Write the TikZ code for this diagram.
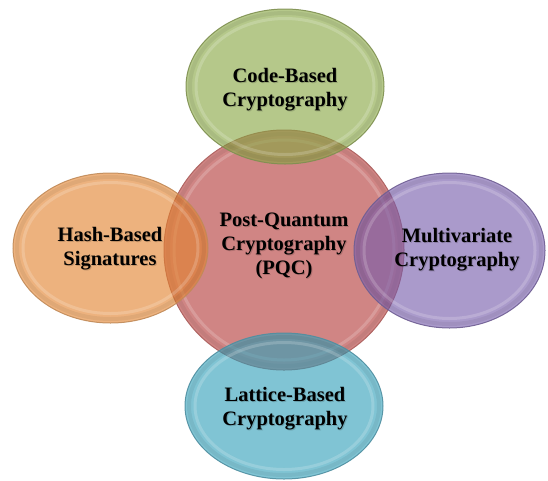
\documentclass[tikz,border=0pt]{standalone}
\usepackage{fontspec}
\setmainfont{Liberation Serif}
\usetikzlibrary{shapes.geometric}

\definecolor{pqcred}{HTML}{D08584}
\definecolor{pqcredline}{HTML}{B06664}
\definecolor{codegreen}{HTML}{87A642}
\definecolor{codegreenline}{HTML}{7E8F50}
\definecolor{hashorange}{HTML}{E2832F}
\definecolor{hashorangeline}{HTML}{C08A58}
\definecolor{multipurple}{HTML}{765CAB}
\definecolor{multipurpleline}{HTML}{6E5E92}
\definecolor{latticeblue}{HTML}{32A0B9}
\definecolor{latticeblueline}{HTML}{4F8EA0}

\tikzset{
  bubble/.style={ellipse, inner sep=0pt, fill=#1, fill opacity=0.62,
    draw=#1line, draw opacity=0.9, line width=1pt},
  core/.style={circle, inner sep=0pt, fill=pqcred, draw=pqcredline, line width=1pt},
  gloss/.style={white, opacity=0.18, line width=3pt},
  shade ring/.style={black, opacity=0.06, line width=4pt},
  caption/.style={align=center, inner sep=0pt, text=black,
    font=\fontsize{20.5}{24}\selectfont\bfseries},
  caption shadow/.style={caption, text=black, text opacity=0.16}
}

\begin{document}
\begin{tikzpicture}[x=1pt,y=-1pt]
  \useasboundingbox (0,0) rectangle (548,480);

  % central topic
  \node[core, minimum size=240pt] (pqc) at (284,250) {};
  \draw[shade ring] (pqc.center) circle [radius=116];
  \draw[gloss] (pqc.center) circle [radius=110];
  \node[caption shadow] (pqc-s) at (285,247) {Post-Quantum\\Cryptography\\(PQC)};
  \node[caption] (pqc-t) at (284,246) {Post-Quantum\\Cryptography\\(PQC)};

  % code-based
  \node[bubble=codegreen, minimum width=198pt, minimum height=155pt] (code) at (285,86.5) {};
  \draw[shade ring] (code.center) ellipse [x radius=95, y radius=73.5];
  \draw[gloss] (code.center) ellipse [x radius=89, y radius=68];
  \node[caption shadow] (code-s) at (286,91) {Code-Based\\Cryptography};
  \node[caption] (code-t) at (285,90) {Code-Based\\Cryptography};

  % hash-based
  \node[bubble=hashorange, minimum width=195pt, minimum height=150pt] (hash) at (110.5,248) {};
  \draw[shade ring] (hash.center) ellipse [x radius=93.5, y radius=71];
  \draw[gloss] (hash.center) ellipse [x radius=87.5, y radius=65.5];
  \node[caption shadow] (hash-s) at (111,250) {Hash-Based\\Signatures};
  \node[caption] (hash-t) at (110,249) {Hash-Based\\Signatures};

  % multivariate
  \node[bubble=multipurple, minimum width=191pt, minimum height=155pt] (multi) at (449.5,250.5) {};
  \draw[shade ring] (multi.center) ellipse [x radius=91.5, y radius=73.5];
  \draw[gloss] (multi.center) ellipse [x radius=85.5, y radius=68];
  \node[caption shadow] (multi-s) at (458,251) {Multivariate\\Cryptography};
  \node[caption] (multi-t) at (457,250) {Multivariate\\Cryptography};

  % lattice-based
  \node[bubble=latticeblue, minimum width=198pt, minimum height=146pt] (lattice) at (284,406) {};
  \draw[shade ring] (lattice.center) ellipse [x radius=95, y radius=69];
  \draw[gloss] (lattice.center) ellipse [x radius=89, y radius=63.5];
  \node[caption shadow] (lattice-s) at (286,410) {Lattice-Based\\Cryptography};
  \node[caption] (lattice-t) at (285,409) {Lattice-Based\\Cryptography};
\end{tikzpicture}
\end{document}
